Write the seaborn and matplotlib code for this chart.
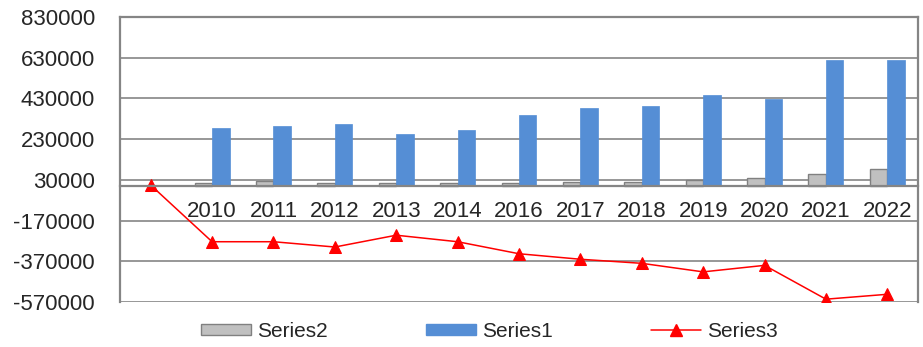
import numpy as np
import pandas as pd
import matplotlib
matplotlib.use('Agg')
import matplotlib.pyplot as plt
from matplotlib.patches import Patch
from matplotlib.lines import Line2D
import seaborn as sns

# valores
years = ['', '2010', '2011', '2012', '2013', '2014', '2016', '2017',
         '2018', '2019', '2020', '2021', '2022']
series1 = [np.nan, 284000, 293000, 303000, 257000, 275000, 347000, 383000,
           392000, 445000, 427000, 617000, 617000]
series2 = [np.nan, 16000, 25000, 16000, 16000, 16000, 14000, 21000,
           21000, 30000, 41000, 58000, 85000]
series3 = [5000, -273000, -273000, -299000, -241000, -273000, -332000, -359000,
           -379000, -421000, -389000, -555000, -531000]
y_ticks = list(range(-570000, 830001, 200000))

grid_color = '#858585'
gray = '#C0C0C0'
blue = '#558ED5'
red = '#FF0000'

sns.set_style('white')
plt.rcParams['font.family'] = ['Liberation Sans', 'DejaVu Sans']

# tabela longa para as barras
bars = pd.DataFrame({
    'year': years * 2,
    'value': series2 + series1,
    'series': ['Series2'] * len(years) + ['Series1'] * len(years),
})

fig = plt.figure(figsize=(9.23, 3.47), dpi=100)
ax = fig.add_axes([0.130, 0.129, 0.8646, 0.822])

sns.barplot(data=bars, x='year', y='value', hue='series', order=years,
            hue_order=['Series2', 'Series1'], palette=[gray, blue],
            saturation=1, width=0.57, gap=0, legend=False, ax=ax)
for bar in ax.patches:
    if bar.get_facecolor()[0] > 0.6:
        bar.set_edgecolor('#808080')
        bar.set_linewidth(1.0)
    else:
        bar.set_edgecolor(blue)
        bar.set_linewidth(0.5)

sns.lineplot(x=np.arange(len(years)), y=series3, color=red, linewidth=1.1,
             marker='^', markersize=8, markeredgecolor=red, sort=False, ax=ax)

ax.set_ylim(-570000, 830000)
ax.set_xlim(-0.5, len(years) - 0.5)
ax.set_yticks(y_ticks)
ax.set_yticklabels([str(t) for t in y_ticks])
ax.yaxis.grid(True, color=grid_color, linewidth=1.2)
ax.set_axisbelow(True)

ax.set_xticks(np.arange(len(years)))
ax.set_xticklabels(years)
ax.set_xticks(np.arange(-0.5, len(years), 1), minor=True)
ax.tick_params(axis='x', which='major', length=0, pad=11, labelsize=16)
ax.tick_params(axis='x', which='minor', length=5, width=1.2,
               color=grid_color, direction='out')
ax.tick_params(axis='y', length=6, width=1.2, color=grid_color,
               direction='out', pad=12, labelsize=16)
ax.set_xlabel('')
ax.set_ylabel('')

ax.spines['bottom'].set_position(('data', 0))
for side in ['left', 'right', 'top', 'bottom']:
    ax.spines[side].set_visible(True)
    ax.spines[side].set_color(grid_color)
    ax.spines[side].set_linewidth(1.6)

handles = [Patch(facecolor=gray, edgecolor='#808080', linewidth=1.0),
           Patch(facecolor=blue, edgecolor=blue),
           Line2D([], [], color=red, linewidth=1.1, marker='^',
                  markersize=8)]
fig.legend(handles, ['Series2', 'Series1', 'Series3'], loc='center',
           bbox_to_anchor=(0.530, 0.046), ncol=3, frameon=False,
           fontsize=15, handlelength=2.4, handleheight=0.45,
           handletextpad=0.3, columnspacing=4.7)

fig.savefig('out.png', dpi=100)
